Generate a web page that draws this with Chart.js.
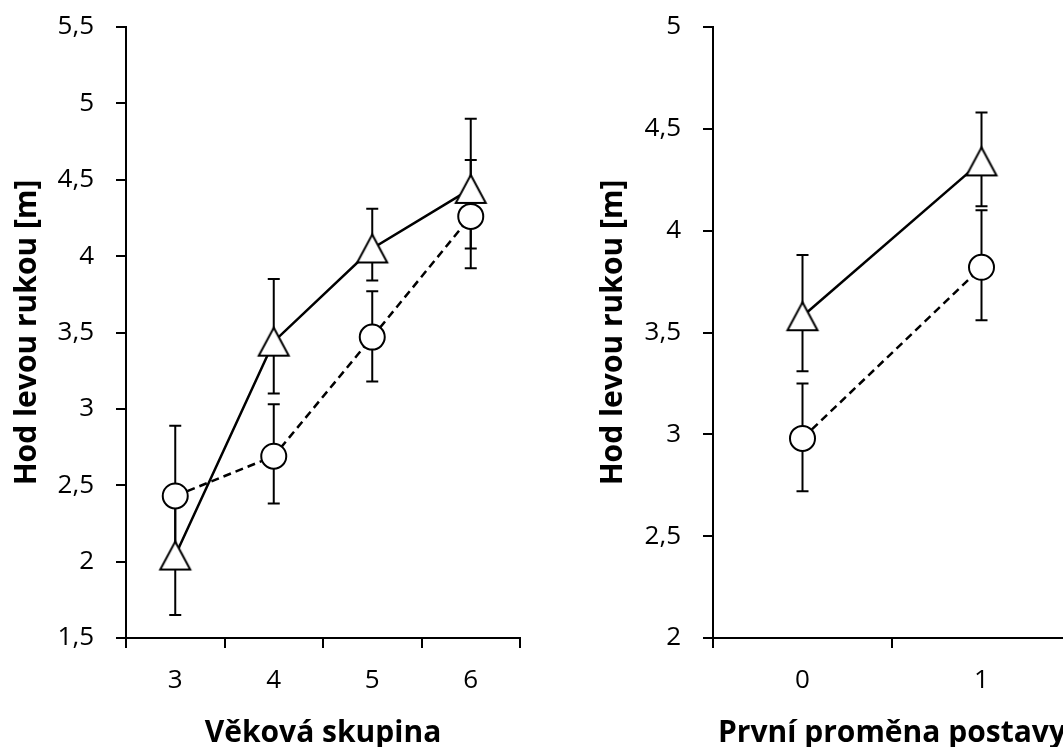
<!DOCTYPE html>
<html>
<head>
<meta charset="utf-8">
<script src="https://cdn.jsdelivr.net/npm/chart.js@4.4.1/dist/chart.umd.min.js"></script>
<style>
html, body { margin: 0; padding: 0; background: #fff; overflow: hidden; width: 1063px; height: 747px; }
#left { position: absolute; left: 0; top: 0; }
#right { position: absolute; left: 560px; top: 0; }
</style>
</head>
<body>
<canvas id="left" width="560" height="747"></canvas>
<canvas id="right" width="560" height="747"></canvas>
<script>
// levý graf - věková skupina
var ageLabels = ['3', '4', '5', '6'];
var ageTri = [2.04, 3.44, 4.05, 4.44];
var ageTriLo = [1.65, 3.10, 3.84, 4.05];
var ageTriHi = [2.43, 3.85, 4.31, 4.90];
var ageCirc = [2.43, 2.69, 3.47, 4.26];
var ageCircLo = [1.98, 2.38, 3.18, 3.92];
var ageCircHi = [2.89, 3.03, 3.77, 4.63];

// pravý graf - první proměna postavy
var changeLabels = ['0', '1'];
var changeTri = [3.58, 4.34];
var changeTriLo = [3.31, 4.12];
var changeTriHi = [3.88, 4.58];
var changeCirc = [2.98, 3.82];
var changeCircLo = [2.72, 3.56];
var changeCircHi = [3.25, 4.10];

var tickFont = { family: 'Open Sans', size: 26 };
var titleFamily = 'Open Sans';

function makeTriangle() {
    var c = document.createElement('canvas');
    c.width = 36;
    c.height = 34;
    var ctx = c.getContext('2d');
    ctx.beginPath();
    ctx.moveTo(18, 3);
    ctx.lineTo(33, 31);
    ctx.lineTo(3, 31);
    ctx.closePath();
    ctx.fillStyle = '#fff';
    ctx.fill();
    ctx.lineWidth = 2;
    ctx.strokeStyle = '#000';
    ctx.stroke();
    return c;
}

var triangle = makeTriangle();

// chybové úsečky pod značkami
var errorBars = {
    id: 'errorBars',
    beforeDatasetsDraw(chart) {
        var ctx = chart.ctx;
        var y = chart.scales.y;
        ctx.save();
        ctx.strokeStyle = '#000';
        ctx.lineWidth = 2;
        chart.data.datasets.forEach((ds, i) => {
            var meta = chart.getDatasetMeta(i);
            meta.data.forEach((pt, j) => {
                var top = y.getPixelForValue(ds.errHi[j]);
                var bottom = y.getPixelForValue(ds.errLo[j]);
                ctx.beginPath();
                ctx.moveTo(pt.x, top);
                ctx.lineTo(pt.x, bottom);
                ctx.moveTo(pt.x - 6, top);
                ctx.lineTo(pt.x + 6, top);
                ctx.moveTo(pt.x - 6, bottom);
                ctx.lineTo(pt.x + 6, bottom);
                ctx.stroke();
            });
        });
        ctx.restore();
    }
};

function makeChart(id, labels, tri, triLo, triHi, circ, circLo, circHi, yMin, yMax, xTitle, yWidth, yTitlePad, padRight) {
    return new Chart(document.getElementById(id), {
        type: 'line',
        data: {
            labels: labels,
            datasets: [
                {
                    data: tri,
                    errLo: triLo,
                    errHi: triHi,
                    borderColor: '#000',
                    borderWidth: 2.5,
                    pointStyle: triangle,
                    pointRadius: 15,
                    tension: 0
                },
                {
                    data: circ,
                    errLo: circLo,
                    errHi: circHi,
                    borderColor: '#000',
                    borderWidth: 2.5,
                    borderDash: [8, 5],
                    pointStyle: 'circle',
                    pointRadius: 12.5,
                    pointBackgroundColor: '#fff',
                    pointBorderColor: '#000',
                    pointBorderWidth: 2,
                    tension: 0
                }
            ]
        },
        options: {
            responsive: false,
            animation: false,
            layout: { padding: { top: 27, right: padRight, bottom: 0, left: 0 } },
            plugins: { legend: { display: false }, tooltip: { enabled: false } },
            scales: {
                x: {
                    offset: true,
                    grid: { offset: true, drawOnChartArea: false, drawTicks: true, tickLength: 10, color: '#000', lineWidth: 2 },
                    border: { display: true, color: '#000', width: 2 },
                    ticks: { color: '#000', font: tickFont, padding: 17 },
                    title: {
                        display: true,
                        text: xTitle,
                        color: '#000',
                        font: { family: titleFamily, size: 30, weight: 'bold', lineHeight: 0.9 },
                        padding: { top: 0, bottom: 0 }
                    },
                    afterFit: s => { s.height = 109; }
                },
                y: {
                    min: yMin,
                    max: yMax,
                    grid: { drawOnChartArea: false, drawTicks: true, tickLength: 10, color: '#000', lineWidth: 2 },
                    border: { display: true, color: '#000', width: 2 },
                    ticks: {
                        stepSize: 0.5,
                        color: '#000',
                        font: tickFont,
                        padding: 22,
                        callback: v => String(v).replace('.', ',')
                    },
                    title: {
                        display: true,
                        text: 'Hod levou rukou [m]',
                        color: '#000',
                        font: { family: titleFamily, size: 30, weight: 'bold', lineHeight: 1.2 },
                        padding: { top: yTitlePad, bottom: 0 }
                    },
                    afterFit: s => {
                        s.width = yWidth;
                        s.paddingTop = 0;
                        s.paddingBottom = 0;
                    }
                }
            }
        },
        plugins: [errorBars]
    });
}

window.onload = () => {
    makeChart('left', ageLabels, ageTri, ageTriLo, ageTriHi, ageCirc, ageCircLo, ageCircHi,
        1.5, 5.5, 'Věková skupina', 126, 9, 40);
    makeChart('right', changeLabels, changeTri, changeTriLo, changeTriHi, changeCirc, changeCircLo, changeCircHi,
        2, 5, 'První proměna postavy', 153, 35, 49);
};
</script>
</body>
</html>
